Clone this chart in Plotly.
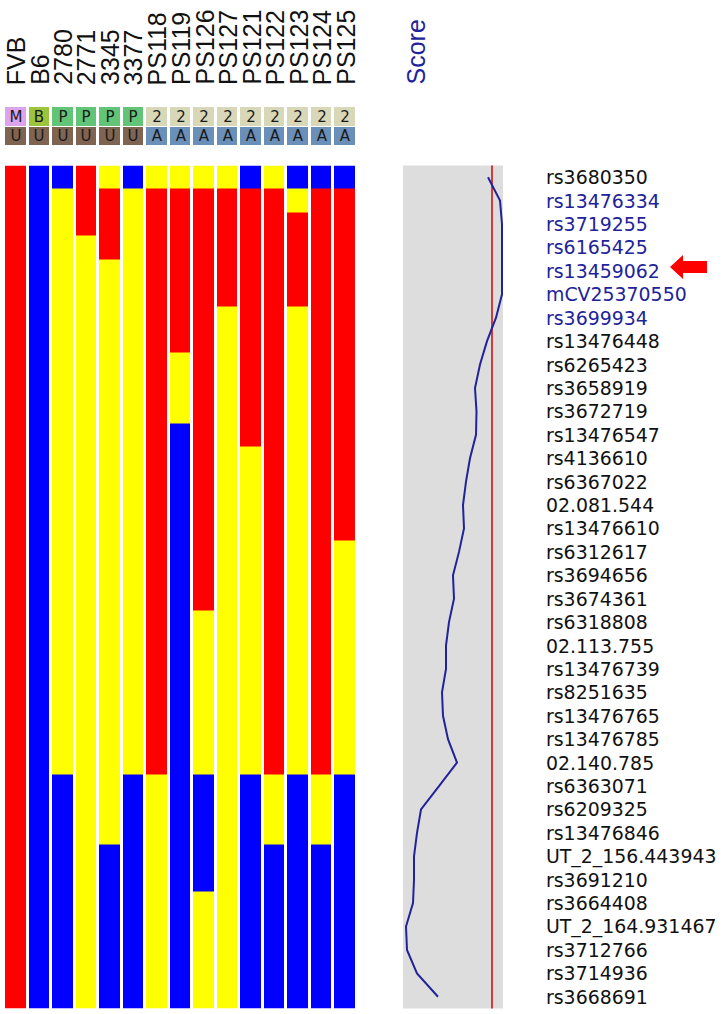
import plotly.graph_objects as go

W, H = 727, 1014

# ---------------- data ----------------
strains = ["FVB", "B6", "2780", "2771", "3345", "3377", "PS118", "PS119",
           "PS126", "PS127", "PS121", "PS122", "PS123", "PS124", "PS125"]
group_code = ["M", "B", "P", "P", "P", "P", "2", "2", "2", "2", "2", "2", "2", "2", "2"]
type_code = ["U", "U", "U", "U", "U", "U", "A", "A", "A", "A", "A", "A", "A", "A", "A"]

markers = ["rs3680350", "rs13476334", "rs3719255", "rs6165425", "rs13459062",
           "mCV25370550", "rs3699934", "rs13476448", "rs6265423", "rs3658919",
           "rs3672719", "rs13476547", "rs4136610", "rs6367022", "02.081.544",
           "rs13476610", "rs6312617", "rs3694656", "rs3674361", "rs6318808",
           "02.113.755", "rs13476739", "rs8251635", "rs13476765", "rs13476785",
           "02.140.785", "rs6363071", "rs6209325", "rs13476846", "UT_2_156.443943",
           "rs3691210", "rs3664408", "UT_2_164.931467", "rs3712766", "rs3714936",
           "rs3668691"]

# genotype call per marker (top to bottom), grouped by 6 markers: R / Y / B
genotypes = {
    "FVB":   "RRRRRR RRRRRR RRRRRR RRRRRR RRRRRR RRRRRR",
    "B6":    "BBBBBB BBBBBB BBBBBB BBBBBB BBBBBB BBBBBB",
    "2780":  "BYYYYY YYYYYY YYYYYY YYYYYY YYBBBB BBBBBB",
    "2771":  "RRRYYY YYYYYY YYYYYY YYYYYY YYYYYY YYYYYY",
    "3345":  "YRRRYY YYYYYY YYYYYY YYYYYY YYYYYB BBBBBB",
    "3377":  "BYYYYY YYYYYY YYYYYY YYYYYY YYBBBB BBBBBB",
    "PS118": "YRRRRR RRRRRR RRRRRR RRRRRR RRYYYY YYYYYY",
    "PS119": "YRRRRR RRYYYB BBBBBB BBBBBB BBBBBB BBBBBB",
    "PS126": "YRRRRR RRRRRR RRRRRR RYYYYY YYBBBB BYYYYY",
    "PS127": "YRRRRR YYYYYY YYYYYY YYYYYY YYYYYY YYYYYY",
    "PS121": "BRRRRR RRRRRR YYYYYY YYYYYY YYBBBB BBBBBB",
    "PS122": "YRRRRR RRRRRR RRRRRR RRRRRR RRYYYB BBBBBB",
    "PS123": "BYRRRR YYYYYY YYYYYY YYYYYY YYBBBB BBBBBB",
    "PS124": "BRRRRR RRRRRR RRRRRR RRRRRR RRYYYB BBBBBB",
    "PS125": "BRRRRR RRRRRR RRRRYY YYYYYY YYBBBB BBBBBB",
}

scores = [8.5, 9.7, 9.9, 9.9, 9.9, 9.9, 9.3, 8.4, 7.7, 7.2,
          7.35, 7.3, 6.7, 6.3, 6.0, 6.1, 5.6, 5.0, 5.1, 4.6,
          4.3, 4.3, 3.9, 4.0, 4.5, 5.4, 3.6, 1.8, 1.4, 1.1,
          1.1, 1.0, 0.3, 0.4, 1.4, 3.5]
threshold = 8.9

# ---------------- styles ----------------
GENO_COLORS = {"R": "#ff0000", "Y": "#ffff00", "B": "#0000ff"}
BADGE_COLORS = {"M": "#dca4ec", "B": "#9cc43c", "P": "#62c477",
                "2": "#d8d8b8", "U": "#806452", "A": "#6a8fb8"}
NAVY = "#22229a"


def px_x(px):
    return px / W


def px_y(py):
    return 1 - py / H


def discrete_scale(colors):
    n = len(colors)
    out = []
    for i, c in enumerate(colors):
        out.append([i / n, c])
        out.append([(i + 1) / n, c])
    return out


geno_keys = list(GENO_COLORS.keys())
calls = {s: genotypes[s].replace(" ", "") for s in strains}
for s in strains:
    assert len(calls[s]) == len(markers), s
z = [[geno_keys.index(calls[s][r]) for s in strains] for r in range(len(markers))]

badge_keys = list(BADGE_COLORS.keys())
zb = [[badge_keys.index(g) for g in group_code], [badge_keys.index(t) for t in type_code]]

cols = list(range(len(strains)))
rows = list(range(len(markers)))

fig = go.Figure()

fig.add_trace(go.Heatmap(
    z=z, x=cols, y=rows, xaxis="x", yaxis="y",
    colorscale=discrete_scale([GENO_COLORS[k] for k in geno_keys]),
    zmin=-0.5, zmax=len(geno_keys) - 0.5, showscale=False,
    xgap=3, ygap=0, hoverinfo="skip"))

fig.add_trace(go.Heatmap(
    z=zb, x=cols, y=[0, 1], xaxis="x", yaxis="y2",
    text=[group_code, type_code], texttemplate="%{text}",
    textfont=dict(family="DejaVu Sans", size=15, color="#1a1a1a"),
    colorscale=discrete_scale([BADGE_COLORS[k] for k in badge_keys]),
    zmin=-0.5, zmax=len(badge_keys) - 0.5, showscale=False,
    xgap=3, ygap=1, hoverinfo="skip"))

fig.add_trace(go.Scatter(
    x=scores, y=rows, xaxis="x3", yaxis="y3", mode="lines",
    line=dict(color=NAVY, width=2), hoverinfo="skip"))

shapes = [
    dict(type="rect", xref="x3 domain", yref="y3 domain", x0=0, x1=1, y0=0, y1=1,
         fillcolor="#dddddd", line=dict(width=0), layer="below"),
    dict(type="line", xref="x3", yref="y3 domain", x0=threshold, x1=threshold,
         y0=0, y1=1, line=dict(color="#d03c3c", width=2), layer="below"),
]

# red arrow pointing at the peak marker
ax = [670, 683, 683, 707, 707, 683, 683]
ay = [267, 255, 261, 261, 273, 273, 279]
path = "M " + " L ".join(f"{px_x(a):.5f},{px_y(b):.5f}" for a, b in zip(ax, ay)) + " Z"
shapes.append(dict(type="path", xref="paper", yref="paper", path=path,
                   fillcolor="#ff0000", line=dict(width=0), layer="above"))

annotations = []
for i, s in enumerate(strains):
    annotations.append(dict(
        text=s, x=i, xref="x", y=px_y(87), yref="paper", xanchor="center",
        yanchor="bottom", textangle=-90, showarrow=False,
        font=dict(family="Liberation Sans", size=25, color="#111111")))
annotations.append(dict(
    text="Score", x=px_x(415), xref="paper", y=px_y(87), yref="paper",
    xanchor="center", yanchor="bottom", textangle=-90, showarrow=False,
    font=dict(family="Liberation Sans", size=25, color=NAVY)))

for r, m in enumerate(markers):
    annotations.append(dict(
        text=m, x=px_x(544), xref="paper", y=r, yref="y3", xanchor="left",
        yanchor="middle", showarrow=False,
        font=dict(family="DejaVu Sans", size=18.9,
                  color=NAVY if scores[r] > threshold else "#111111")))

hidden = dict(visible=False, showgrid=False, zeroline=False, fixedrange=True)
fig.update_layout(
    width=W, height=H, autosize=False,
    margin=dict(l=0, r=0, t=0, b=0),
    paper_bgcolor="white", plot_bgcolor="white", showlegend=False,
    xaxis=dict(domain=[px_x(4), px_x(357)], range=[-0.5, len(strains) - 0.5], anchor="y", **hidden),
    yaxis=dict(domain=[px_y(1008.5), px_y(165.5)], range=[len(markers) - 0.5, -0.5], anchor="x", **hidden),
    yaxis2=dict(domain=[px_y(146), px_y(107)], range=[1.5, -0.5], anchor="x", **hidden),
    xaxis3=dict(domain=[px_x(403), px_x(503)], range=[0, 10], anchor="y3", **hidden),
    yaxis3=dict(domain=[px_y(1008.5), px_y(165.5)], range=[len(markers) - 0.5, -0.5], anchor="x3", **hidden),
    shapes=shapes, annotations=annotations,
)

fig.write_html("out.html", config={"displayModeBar": False},
               post_script="document.body.style.margin='0px';document.body.style.overflow='hidden';")
